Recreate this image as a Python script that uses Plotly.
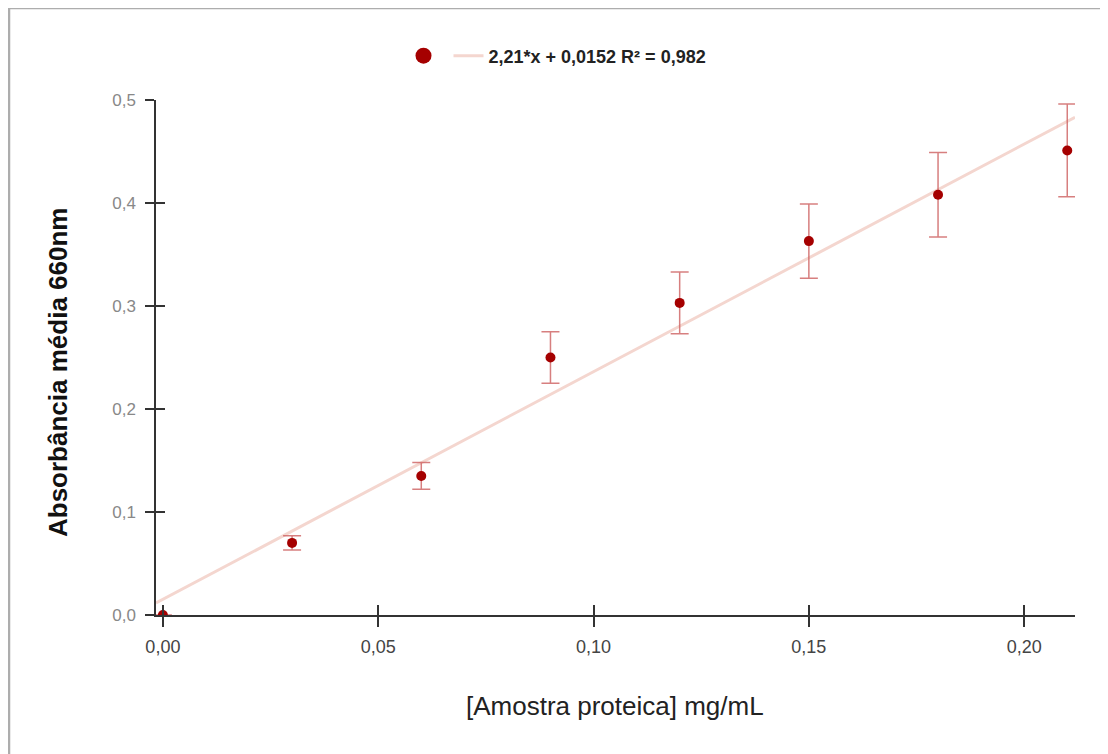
import plotly.graph_objects as go

x_vals = [0.0, 0.03, 0.06, 0.09, 0.12, 0.15, 0.18, 0.21]
y_vals = [0.0, 0.070, 0.135, 0.250, 0.303, 0.363, 0.408, 0.451]
y_err = [0.0, 0.007, 0.013, 0.025, 0.030, 0.036, 0.041, 0.045]
slope = 2.21
intercept = 0.0152
trend_label = "2,21*x + 0,0152 R² = 0,982"
x_range = [-0.0016, 0.2118]
y_range = [0.0, 0.5]
x_ticks = [0.0, 0.05, 0.10, 0.15, 0.20]
x_ticktext = ["0,00", "0,05", "0,10", "0,15", "0,20"]
y_ticks = [0.0, 0.1, 0.2, 0.3, 0.4, 0.5]
y_ticktext = ["0,0", "0,1", "0,2", "0,3", "0,4", "0,5"]

# page body has an 8px margin; figure coordinates below are relative to the figure
W, H = 1100, 746
L, R, T, B = 148, 33, 92, 139
pw, ph = W - L - R, H - T - B


def px(xf):
    return (xf - L) / pw


def py(yf):
    return (H - B - yf) / ph


FONT = "Arial, Liberation Sans, sans-serif"

fig = go.Figure()
# legend-only marker entry (bigger symbol, like the reference legend)
fig.add_trace(go.Scatter(
    x=[None], y=[None], mode="markers",
    marker=dict(color="#a50000", size=17), name="", hoverinfo="skip",
))
fig.add_trace(go.Scatter(
    x=[x_range[0], x_range[1]],
    y=[slope * x_range[0] + intercept, slope * x_range[1] + intercept],
    mode="lines", line=dict(color="#f4d6cf", width=3),
    name=trend_label, hoverinfo="skip",
))
fig.add_trace(go.Scatter(
    x=x_vals, y=y_vals, mode="markers",
    marker=dict(color="#a50000", size=10),
    error_y=dict(type="data", array=y_err, visible=True,
                 color="rgba(205,95,95,0.8)", thickness=1.5, width=9),
    name="", showlegend=False, cliponaxis=True,
))
# invisible trace to activate secondary axes for the crossing tick marks
fig.add_trace(go.Scatter(x=[x_range[0]], y=[y_range[0]], xaxis="x2", yaxis="y2",
                         mode="markers", marker=dict(opacity=0), showlegend=False,
                         hoverinfo="skip"))

fig.update_layout(
    width=W, height=H,
    margin=dict(l=L, r=R, t=T, b=B, autoexpand=False),
    paper_bgcolor="white", plot_bgcolor="white",
    separators=",.",
    font=dict(family=FONT),
    showlegend=True,
    legend=dict(orientation="h", x=px(549.5), xanchor="center", y=py(48),
                yanchor="middle", traceorder="normal",
                font=dict(size=18, color="#222", family=FONT, weight="bold"),
                itemwidth=30),
    xaxis=dict(range=x_range, tickvals=x_ticks, ticktext=x_ticktext,
               showgrid=False, zeroline=False, showline=True, linecolor="#333", linewidth=1.5,
               ticks="outside", ticklen=10, tickcolor="#333", tickwidth=1.5,
               ticklabelstandoff=5,
               tickfont=dict(size=18, color="#444")),
    yaxis=dict(range=y_range, tickvals=y_ticks, ticktext=y_ticktext,
               showgrid=False, zeroline=False, showline=True, linecolor="#333", linewidth=1.5,
               ticks="outside", ticklen=9, tickcolor="#333", tickwidth=1.5,
               ticklabelstandoff=6,
               tickfont=dict(size=17, color="#888")),
    xaxis2=dict(range=x_range, overlaying="x", matches="x", tickvals=x_ticks,
                showticklabels=False, ticks="inside", ticklen=10, tickcolor="#333",
                tickwidth=1.5, showgrid=False, zeroline=False, showline=False),
    yaxis2=dict(range=y_range, overlaying="y", matches="y", tickvals=y_ticks,
                showticklabels=False, ticks="inside", ticklen=9, tickcolor="#333",
                tickwidth=1.5, showgrid=False, zeroline=False, showline=False),
)

fig.add_annotation(text="<b>Absorbância média 660nm</b>", textangle=-90,
                   xref="paper", yref="paper", x=px(50), y=py(365),
                   xanchor="center", yanchor="middle", showarrow=False,
                   font=dict(size=26, color="#111"))
fig.add_annotation(text="[Amostra proteica] mg/mL",
                   xref="paper", yref="paper", x=px(607), y=py(698),
                   xanchor="center", yanchor="middle", showarrow=False,
                   font=dict(size=26, color="#222"))

# outer frame (top and left edges visible)
fig.add_shape(type="line", xref="paper", yref="paper",
              x0=px(1), x1=px(W + 5), y0=py(0), y1=py(0),
              line=dict(color="#adadad", width=2.5))
fig.add_shape(type="line", xref="paper", yref="paper",
              x0=px(1), x1=px(1), y0=py(0), y1=py(H + 5),
              line=dict(color="#adadad", width=2.5))

fig.write_html("out.html")
